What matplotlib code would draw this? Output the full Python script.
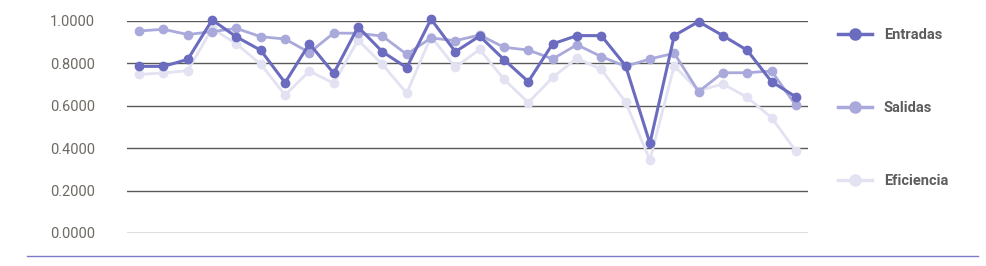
import matplotlib
matplotlib.use("Agg")
import matplotlib.pyplot as plt
from matplotlib.lines import Line2D

categories = list(range(1, 29))
entradas = [0.786, 0.786, 0.819, 1.005, 0.925, 0.862, 0.709, 0.893, 0.753, 0.972,
            0.855, 0.780, 1.009, 0.855, 0.929, 0.818, 0.714, 0.892, 0.931, 0.931,
            0.789, 0.423, 0.931, 0.997, 0.931, 0.862, 0.714, 0.642]
salidas = [0.953, 0.961, 0.936, 0.950, 0.965, 0.926, 0.915, 0.851, 0.943, 0.942,
           0.929, 0.843, 0.920, 0.907, 0.934, 0.876, 0.863, 0.821, 0.888, 0.832,
           0.786, 0.821, 0.848, 0.667, 0.756, 0.756, 0.764, 0.602]
eficiencia = [0.748, 0.755, 0.766, 0.965, 0.892, 0.796, 0.651, 0.764, 0.706, 0.910,
              0.796, 0.659, 0.926, 0.782, 0.866, 0.725, 0.615, 0.734, 0.824, 0.772,
              0.618, 0.344, 0.789, 0.671, 0.703, 0.640, 0.544, 0.387]
series_names = ["Entradas", "Salidas", "Eficiencia"]
yticks = [0.0, 0.2, 0.4, 0.6, 0.8, 1.0]

c_ent, c_sal, c_efi = "#6b6bbf", "#a9a9dc", "#e2e2f2"

fig = plt.figure(figsize=(9.87, 2.66), dpi=100)
ax = fig.add_axes([127/987, 1 - 233/266, (808 - 127)/987, (233 - 21)/266])

x = list(range(len(categories)))
ax.plot(x, eficiencia, color=c_efi, lw=2, marker="o", ms=6, clip_on=False, zorder=3, label=series_names[2])
ax.plot(x, salidas, color=c_sal, lw=2, marker="o", ms=6, clip_on=False, zorder=4, label=series_names[1])
ax.plot(x, entradas, color=c_ent, lw=2.2, marker="o", ms=6, clip_on=False, zorder=5, label=series_names[0])

ax.set_xlim(-0.5, len(categories) - 0.5)
ax.set_ylim(0, 1)
ax.set_yticks(yticks)
ax.set_yticklabels([f"{v:.4f}" for v in yticks], fontsize=10.5, color="#6e6a64", family="Roboto")
ax.tick_params(axis="y", length=0, pad=23)
ax.set_xticks([])
for s in ax.spines.values():
    s.set_visible(False)
ax.grid(axis="y", color="#5a5a5a", lw=1)
ax.set_axisbelow(True)

handles = [Line2D([], [], color=c, lw=2.5, marker="o", ms=8) for c in (c_ent, c_sal, c_efi)]
leg = fig.legend(handles, series_names, loc="upper left", bbox_to_anchor=(838/987, 1 - 28/266),
                 frameon=False, borderpad=0, borderaxespad=0,
                 handlelength=2.35, handletextpad=0.8, labelspacing=4.05,
                 prop={"family": "Roboto", "weight": "bold", "size": 10.5})
for t in leg.get_texts():
    t.set_color("#5c5c5c")

fig.add_artist(Line2D([27/987, 978/987], [1 - 256/266, 1 - 256/266], color="#7b7bc8", lw=1))

fig.savefig("out.png", dpi=100)
